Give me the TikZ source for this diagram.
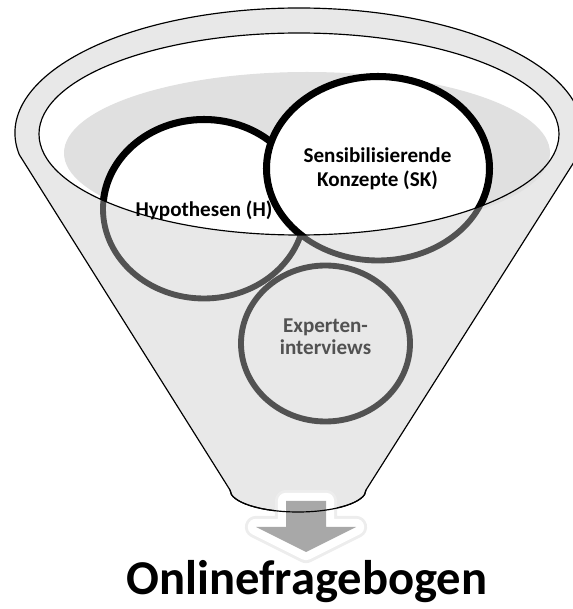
\documentclass[tikz,border=0pt]{standalone}
\usepackage{fontspec}
\setmainfont{Carlito}
\usepackage{tikz}

\definecolor{funnelgray}{HTML}{E8E8E8}
\definecolor{liquidgray}{HTML}{E0E0E0}
\definecolor{ringgray}{HTML}{525252}
\definecolor{arrowgray}{HTML}{A8A8A8}

\begin{document}
\begin{tikzpicture}[x=0.3mm,y=0.3mm,line join=round,
  rim/.style={draw=black,line width=1pt},
  back ring/.style={draw=ringgray,fill=funnelgray,line width=5pt},
  front ring/.style={draw=black,fill=white,line width=6pt},
  label/.style={font=\fontsize{18}{20.5}\selectfont\bfseries,align=center,inner sep=0pt}]

  \clip (0,0) rectangle (573,609);

  \coordinate (mouth) at (299,475);
  \coordinate (hyp) at (204,400);
  \coordinate (sk) at (378,440.5);
  \coordinate (exp) at (325.5,265.5);

  % funnel body
  \draw[rim,fill=funnelgray] (19.3,454.3) arc[start angle=190,end angle=-10,x radius=284,y radius=125]
    -- (366,119) arc[start angle=0,end angle=-180,x radius=68,y radius=22] -- cycle;
  \fill[white] (mouth) ellipse [x radius=260,y radius=101];
  \fill[liquidgray] (307,456) ellipse [x radius=243,y radius=81];

  % arrow out of the funnel
  \fill[arrowgray,preaction={draw=black!7,line width=19pt},preaction={draw=white,line width=14pt}]
    (286,108) -- (326,108) -- (326,82) -- (356,82) -- (306,57) -- (256,82) -- (286,82) -- cycle;
  \draw[rim] (366,119) arc[start angle=0,end angle=-180,x radius=68,y radius=22];

  % circles, lower halves seen through the funnel
  \foreach \c/\rx/\ry in {exp/84.5/78, hyp/101/89.5, sk/111.5/92}
    \draw[back ring] (\c) ellipse [x radius=\rx,y radius=\ry];
  \begin{scope}
    \clip (mouth) ellipse [x radius=260,y radius=101];
    \foreach \c/\rx/\ry in {hyp/101/89.5, sk/111.5/92}
      \draw[front ring] (\c) ellipse [x radius=\rx,y radius=\ry];
  \end{scope}
  \draw[rim] (mouth) ellipse [x radius=260,y radius=101];

  \node[label,anchor=base] (h) at (204,392) {Hypothesen (H)};
  \node[label] (s) at (377.5,440) {Sensibilisierende\\Konzepte (SK)};
  \node[label,text=ringgray,font=\fontsize{18}{19}\selectfont\bfseries] (e) at (325.5,272) {Experten-\\interviews};
  \node[label,anchor=base,font=\fontsize{41.5}{45}\selectfont\bfseries] (o) at (307,14) {Onlinefragebogen};
\end{tikzpicture}
\end{document}
